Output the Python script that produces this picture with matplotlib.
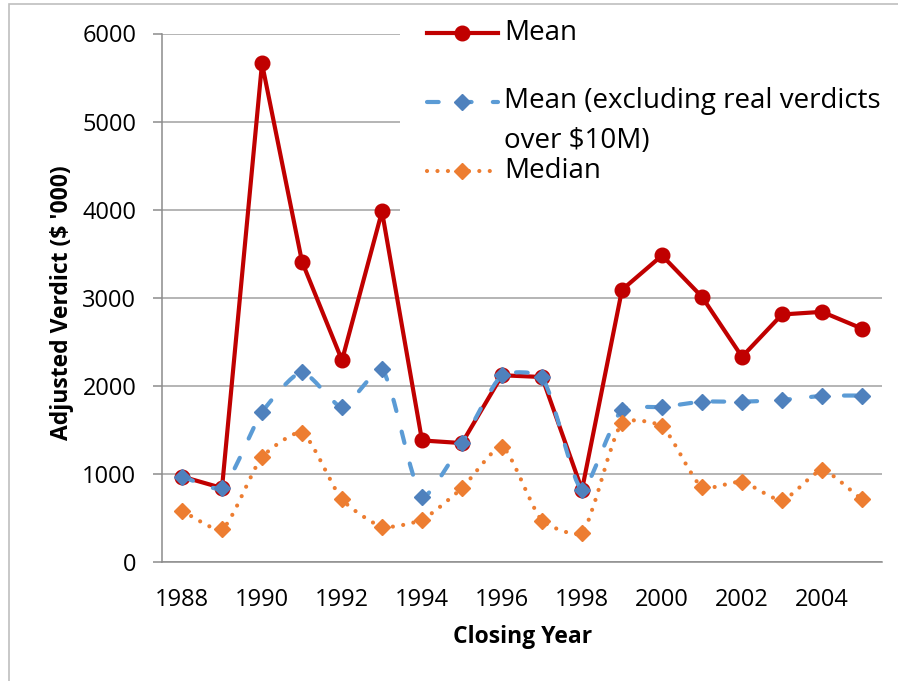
import numpy as np
import matplotlib
matplotlib.use('Agg')
import matplotlib.pyplot as plt
from matplotlib.path import Path
from matplotlib.patches import PathPatch, Rectangle
from matplotlib.lines import Line2D

plt.rcParams['font.family'] = ['Open Sans', 'DejaVu Sans']

years = list(range(1988, 2006))
mean = [970, 840, 5660, 3410, 2290, 3980, 1380, 1350, 2120, 2100, 820,
        3090, 3480, 3010, 2330, 2810, 2840, 2650]
mean_excl = [970, 840, 1700, 2160, 1760, 2190, 740, 1350, 2120, 2100, 820,
             1730, 1760, 1820, 1820, 1840, 1885, 1890]
median = [580, 370, 1190, 1470, 710, 400, 480, 840, 1310, 470, 330,
          1580, 1540, 850, 910, 700, 1040, 710]

labels = ['Mean', 'Mean (excluding real verdicts\nover $10M)', 'Median']
red = '#C00000'
blue_line = '#5B9BD5'
blue_mark = '#4F81BD'
orange = '#ED7D31'
fs = 17
lfs = 20
lw = 3.0
dash = (2.8, 5.1)
dots = (0.01, 2.5)

W, H = 898, 681
fig = plt.figure(figsize=(W / 100, H / 100), dpi=100)

# light frame round the chart
fig.add_artist(Rectangle((9 / W, -0.1), 1.2, 1.1 - 4.5 / H, transform=fig.transFigure,
                         fill=False, edgecolor='#BFBFBF', lw=1.2))

ax = fig.add_axes([162 / W, 1 - 562 / H, 720 / W, 528.5 / H])
ax.set_xlim(1987.5, 2005.5)
ax.set_ylim(0, 6000)


def smooth_path(xs, ys, t=0.2):
    # bezier through the points, tangents weighted by on-screen chord length
    pts = np.column_stack([xs, ys]).astype(float)
    scr = ax.transData.transform(pts)
    n = len(pts)
    before = [pts[0]] * n
    after = [pts[0]] * n
    for i in range(n):
        a, b = max(i - 1, 0), min(i + 1, n - 1)
        d01 = np.hypot(*(scr[i] - scr[a]))
        d12 = np.hypot(*(scr[b] - scr[i]))
        tot = d01 + d12 if d01 + d12 > 0 else 1.0
        before[i] = pts[i] - t * d01 / tot * (pts[b] - pts[a])
        after[i] = pts[i] + t * d12 / tot * (pts[b] - pts[a])
    verts = [pts[0]]
    codes = [Path.MOVETO]
    for i in range(n - 1):
        verts += [after[i], before[i + 1], pts[i + 1]]
        codes += [Path.CURVE4] * 3
    return Path(verts, codes)


ax.plot(years, mean, color=red, lw=lw, marker='o', ms=10.5, zorder=3,
        solid_joinstyle='round')

ax.add_patch(PathPatch(smooth_path(years, mean_excl), fill=False, edgecolor=blue_line,
                       lw=lw, linestyle=(0, dash), capstyle='round', zorder=4))
ax.plot(years, mean_excl, ls='none', marker='D', ms=8.5, color=blue_mark, zorder=4)

ax.add_patch(PathPatch(smooth_path(years, median), fill=False, edgecolor=orange,
                       lw=lw, linestyle=(0, dots), capstyle='round', zorder=5))
ax.plot(years, median, ls='none', marker='D', ms=8.5, color=orange, zorder=5)

ax.set_yticks(range(0, 6001, 1000))
ax.set_xticks(range(1988, 2005, 2))
ax.grid(axis='y', color='#A0A0A0', lw=1.1)
ax.set_axisbelow(True)
for s in ['top', 'right']:
    ax.spines[s].set_visible(False)
for s in ['left', 'bottom']:
    ax.spines[s].set_color('#8C8C8C')
    ax.spines[s].set_linewidth(1.1)
ax.tick_params(axis='y', length=6.5, width=1.1, color='#8C8C8C', pad=12, labelsize=fs)
ax.tick_params(axis='x', length=0, pad=19, labelsize=fs)
ax.set_xlabel('Closing Year', fontsize=16.5, fontweight='bold', va='center')
ax.set_ylabel("Adjusted Verdict ($ '000)", fontsize=16.5, fontweight='bold', va='center')
ax.xaxis.set_label_coords(0.5004, -75 / 528.5)
ax.yaxis.set_label_coords(-100 / 720, 0.5 - 5 / 528.5)

# legend panel sitting over the top right of the plot
lax = fig.add_axes([400 / W, 1 - 235 / H, 498 / W, 225 / H], zorder=10)
lax.set_xlim(400, 898)
lax.set_ylim(235, 10)
lax.set_facecolor('white')
for s in lax.spines.values():
    s.set_visible(False)
lax.set_xticks([])
lax.set_yticks([])

lax.add_line(Line2D([427, 498], [33, 33], color=red, lw=lw))
lax.plot([462], [33], marker='o', ms=10.5, color=red)
lax.text(504, 33, labels[0], fontsize=lfs, va='center', ha='left')

lax.add_line(Line2D([427, 498], [102, 102], color=blue_line, lw=lw,
                    dashes=dash, dash_capstyle='round'))
lax.plot([462], [102], marker='D', ms=8.5, color=blue_mark)
lax.text(504, 121, labels[1], fontsize=lfs, va='center', ha='left', linespacing=1.6)

lax.add_line(Line2D([427, 498], [171, 171], color=orange, lw=lw,
                    dashes=dots, dash_capstyle='round'))
lax.plot([462], [171], marker='D', ms=8.5, color=orange)
lax.text(504, 171, labels[2], fontsize=lfs, va='center', ha='left')

fig.savefig('out.png', dpi=100)
